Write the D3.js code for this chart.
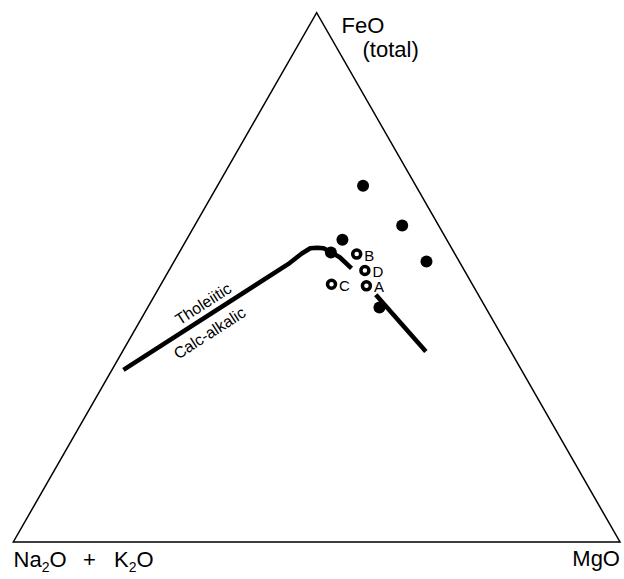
<!DOCTYPE html>
<html>
<head>
<meta charset="utf-8">
<script src="https://cdn.jsdelivr.net/npm/d3@7"></script>
<style>
  body { margin: 0; background: #fff; }
  svg text { font-family: "Liberation Sans", Arial, sans-serif; fill: #000; }
</style>
</head>
<body>
<div id="chartArea"></div>
<script>
// ternary values in percent: [Na2O+K2O, FeO, MgO]
var filledSamples = [
  [8.7, 67.3, 24.0],
  [6.0, 59.8, 34.2],
  [17.2, 57.1, 25.7],
  [20.3, 54.7, 25.0],
  [5.4, 53.0, 41.6],
  [17.5, 44.3, 38.2]
];
var openSamples = [
  [16.2, 54.4, 29.4],
  [16.4, 51.3, 32.3],
  [23.2, 48.7, 28.1],
  [17.6, 48.4, 34.0]
];
var openLabels = ["B", "D", "C", "A"];

// Tholeiitic / calc-alkalic dividing line (two pieces)
var boundaryUpper = [
  [65.6, 32.5, 1.9],
  [28.1, 52.7, 19.2],
  [25.2, 54.5, 20.3],
  [23.3, 55.5, 21.2],
  [22.1, 55.6, 22.3],
  [21.1, 55.5, 23.4],
  [20.4, 54.9, 24.7],
  [19.3, 53.8, 26.9],
  [18.4, 51.7, 29.9]
];
var boundaryLower = [
  [16.9, 46.7, 36.4],
  [14.0, 36.0, 50.0]
];

var fieldLabels = ["Tholeiitic", "Calc-alkalic"];
var fieldLabelPos = [[46.2, 45.0, 8.8], [47.9, 39.5, 12.6]];

var width = 624, height = 579;
var left = 13.3, right = 620, base = 542, apex = 12.7;

// F (FeO) sets height, M + F/2 sets horizontal position
var yscale = d3.scaleLinear().domain([0, 100]).range([base, apex]);
var xscale = d3.scaleLinear().domain([0, 100]).range([left, right]);
function px(d) { return xscale(d[2] + d[1] / 2); }
function py(d) { return yscale(d[1]); }

var svg = d3.select('#chartArea').append('svg')
    .attr('width', width)
    .attr('height', height);

var corners = [[100, 0, 0], [0, 100, 0], [0, 0, 100]];
svg.append('path')
    .attr('d', d3.line().x(px).y(py)(corners) + 'Z')
    .attr('fill', 'none')
    .attr('stroke', '#000')
    .attr('stroke-width', 1.5);

var curve = d3.line().x(px).y(py);
[boundaryUpper, boundaryLower].forEach(function(seg) {
  svg.append('path')
      .attr('d', curve(seg))
      .attr('fill', 'none')
      .attr('stroke', '#000')
      .attr('stroke-width', 4.5)
      .attr('stroke-linecap', 'butt')
      .attr('stroke-linejoin', 'round');
});

var angle = Math.atan2(py(boundaryUpper[1]) - py(boundaryUpper[0]),
                       px(boundaryUpper[1]) - px(boundaryUpper[0])) * 180 / Math.PI;
svg.selectAll('text.field').data(fieldLabels).enter().append('text')
    .attr('class', 'field')
    .attr('transform', function(d, i) {
      var p = fieldLabelPos[i];
      return 'translate(' + px(p) + ',' + py(p) + ') rotate(' + angle + ')';
    })
    .attr('text-anchor', 'middle')
    .attr('dominant-baseline', 'central')
    .style('font-size', '16px')
    .text(function(d) { return d; });

svg.selectAll('circle.filled').data(filledSamples).enter().append('circle')
    .attr('class', 'filled')
    .attr('cx', px).attr('cy', py)
    .attr('r', 6)
    .attr('fill', '#000');

svg.selectAll('circle.open').data(openSamples).enter().append('circle')
    .attr('class', 'open')
    .attr('cx', px).attr('cy', py)
    .attr('r', 4)
    .attr('fill', '#fff')
    .attr('stroke', '#000')
    .attr('stroke-width', 3.5);

svg.selectAll('text.samp').data(openSamples).enter().append('text')
    .attr('class', 'samp')
    .attr('x', function(d) { return px(d) + 7.5; })
    .attr('y', function(d) { return py(d) + 1; })
    .attr('dominant-baseline', 'central')
    .style('font-size', '15px')
    .text(function(d, i) { return openLabels[i]; });

// apex labels
svg.append('text').attr('x', 341.5).attr('y', 33).style('font-size', '22px').text('FeO');
svg.append('text').attr('x', 362.5).attr('y', 56.5).style('font-size', '22px').text('(total)');

var alk = svg.append('text').attr('y', 566.5).style('font-size', '22px');
alk.append('tspan').attr('x', 13.5).text('Na');
alk.append('tspan').attr('dy', 5).style('font-size', '14px').text('2');
alk.append('tspan').attr('dy', -5).text('O');
alk.append('tspan').attr('x', 83).text('+');
alk.append('tspan').attr('x', 114).text('K');
alk.append('tspan').attr('dy', 5).style('font-size', '14px').text('2');
alk.append('tspan').attr('dy', -5).text('O');

svg.append('text').attr('x', 620).attr('y', 566).attr('text-anchor', 'end')
    .style('font-size', '22px').text('MgO');
</script>
</body>
</html>
